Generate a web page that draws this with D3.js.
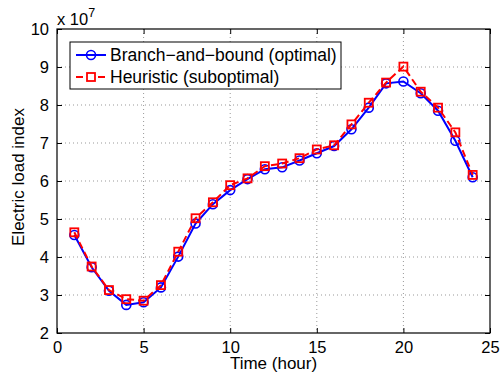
<!DOCTYPE html>
<html>
<head>
<meta charset="utf-8">
<script src="https://cdn.jsdelivr.net/npm/d3@7"></script>
<style>
  body { margin: 0; background: #fff; }
  text { font-family: "Liberation Sans", Arial, Helvetica, sans-serif; fill: #000; }
</style>
</head>
<body>
<div id="chart"></div>
<script>
// hours 1..24
var hours = d3.range(1, 25);
// electric load index, units of 1e7
var branchBound = [4.58, 3.73, 3.11, 2.74, 2.81, 3.20, 4.01, 4.88, 5.39, 5.76, 6.05, 6.31,
                   6.36, 6.54, 6.73, 6.92, 7.36, 7.93, 8.57, 8.62, 8.31, 7.85, 7.06, 6.10];
var heuristic   = [4.65, 3.75, 3.13, 2.89, 2.85, 3.26, 4.14, 5.02, 5.44, 5.89, 6.07, 6.39,
                   6.46, 6.60, 6.83, 6.94, 7.49, 8.06, 8.59, 9.01, 8.35, 7.93, 7.28, 6.16];
var xTicks = [0, 5, 10, 15, 20, 25];
var yTicks = [2, 3, 4, 5, 6, 7, 8, 9, 10];
var legendLabels = ["Branch\u2212and\u2212bound (optimal)", "Heuristic (suboptimal)"];

var width = 502, height = 372;
var margin = {top: 29, right: 12, bottom: 39, left: 57};
var innerW = width - margin.left - margin.right,
    innerH = height - margin.top - margin.bottom;

var svg = d3.select("#chart").append("svg")
    .attr("width", width)
    .attr("height", height);

svg.append("rect").attr("width", width).attr("height", height).attr("fill", "#fff");

var g = svg.append("g").attr("transform", "translate(" + margin.left + "," + margin.top + ")");

var x = d3.scaleLinear().domain([0, 25]).range([0, innerW]);
var y = d3.scaleLinear().domain([2, 10]).range([innerH, 0]);

// grid
g.append("g").selectAll("line")
    .data(xTicks.slice(1, -1))
  .enter().append("line")
    .attr("x1", d => x(d)).attr("x2", d => x(d))
    .attr("y1", 0).attr("y2", innerH)
    .attr("stroke", "#999").attr("stroke-width", 1).attr("stroke-dasharray", "1,3");
g.append("g").selectAll("line")
    .data(yTicks.slice(1, -1))
  .enter().append("line")
    .attr("y1", d => y(d)).attr("y2", d => y(d))
    .attr("x1", 0).attr("x2", innerW)
    .attr("stroke", "#999").attr("stroke-width", 1).attr("stroke-dasharray", "1,3");

// axes (ticks inside, MATLAB style)
var tickLen = 5;
var xAxis = g.append("g").attr("transform", "translate(0," + innerH + ")")
    .call(d3.axisBottom(x).tickValues(xTicks).tickSizeInner(-tickLen).tickSizeOuter(0).tickPadding(8));
var yAxis = g.append("g")
    .call(d3.axisLeft(y).tickValues(yTicks).tickSizeInner(-tickLen).tickSizeOuter(0).tickPadding(8));
g.append("g")
    .call(d3.axisTop(x).tickValues(xTicks).tickSizeInner(-tickLen).tickSizeOuter(0).tickFormat(""));
g.append("g").attr("transform", "translate(" + innerW + ",0)")
    .call(d3.axisRight(y).tickValues(yTicks).tickSizeInner(-tickLen).tickSizeOuter(0).tickFormat(""));
g.selectAll(".domain").remove();
g.selectAll(".tick line").attr("stroke", "#000");
g.selectAll(".tick text").attr("font-size", 16.5).attr("font-family", "Liberation Sans, Arial, sans-serif");
yAxis.selectAll(".tick text").attr("dy", "0.36em");

g.append("rect")
    .attr("width", innerW).attr("height", innerH)
    .attr("fill", "none").attr("stroke", "#000").attr("stroke-width", 1.2);

// series
var line = d3.line().x((d, i) => x(hours[i])).y(d => y(d));

g.append("path").datum(branchBound)
    .attr("d", line).attr("fill", "none")
    .attr("stroke", "#0000ff").attr("stroke-width", 2);
g.append("g").selectAll("circle")
    .data(branchBound)
  .enter().append("circle")
    .attr("cx", (d, i) => x(hours[i])).attr("cy", d => y(d))
    .attr("r", 4.5).attr("fill", "none")
    .attr("stroke", "#0000ff").attr("stroke-width", 1.6);

g.append("path").datum(heuristic)
    .attr("d", line).attr("fill", "none")
    .attr("stroke", "#ff0000").attr("stroke-width", 2).attr("stroke-dasharray", "7,4");
g.append("g").selectAll("rect")
    .data(heuristic)
  .enter().append("rect")
    .attr("x", (d, i) => x(hours[i]) - 4).attr("y", d => y(d) - 4)
    .attr("width", 8).attr("height", 8).attr("fill", "none")
    .attr("stroke", "#ff0000").attr("stroke-width", 1.8);

// exponent
var expo = svg.append("text").attr("x", margin.left).attr("y", 25).attr("font-size", 16.5);
expo.append("tspan").text("x 10");
expo.append("tspan").attr("dy", -8).attr("font-size", 12.5).text("7");

// axis labels
svg.append("text")
    .attr("x", margin.left + innerW / 2).attr("y", 369)
    .attr("text-anchor", "middle").attr("font-size", 17)
    .text("Time (hour)");
svg.append("text")
    .attr("transform", "translate(24,177) rotate(-90)")
    .attr("text-anchor", "middle").attr("font-size", 17)
    .text("Electric load index");

// legend
var legend = svg.append("g").attr("transform", "translate(70,42)");
legend.append("rect")
    .attr("width", 271).attr("height", 47)
    .attr("fill", "#fff").attr("stroke", "#000").attr("stroke-width", 1);
var rows = [
  {color: "#0000ff", dash: null, marker: "circle"},
  {color: "#ff0000", dash: "7,4", marker: "square"}
];
rows.forEach(function(r, i) {
  var ry = 13 + i * 22;
  legend.append("line")
      .attr("x1", 6).attr("x2", 36).attr("y1", ry).attr("y2", ry)
      .attr("stroke", r.color).attr("stroke-width", 2)
      .attr("stroke-dasharray", r.dash);
  if (r.marker === "circle") {
    legend.append("circle").attr("cx", 21).attr("cy", ry).attr("r", 4.5)
        .attr("fill", "none").attr("stroke", r.color).attr("stroke-width", 1.6);
  } else {
    legend.append("rect").attr("x", 17).attr("y", ry - 4).attr("width", 8).attr("height", 8)
        .attr("fill", "#fff").attr("stroke", r.color).attr("stroke-width", 1.8);
  }
  legend.append("text")
      .attr("x", 40).attr("y", ry).attr("dy", "0.36em")
      .attr("font-size", 17.5)
      .text(legendLabels[i]);
});
</script>
</body>
</html>
